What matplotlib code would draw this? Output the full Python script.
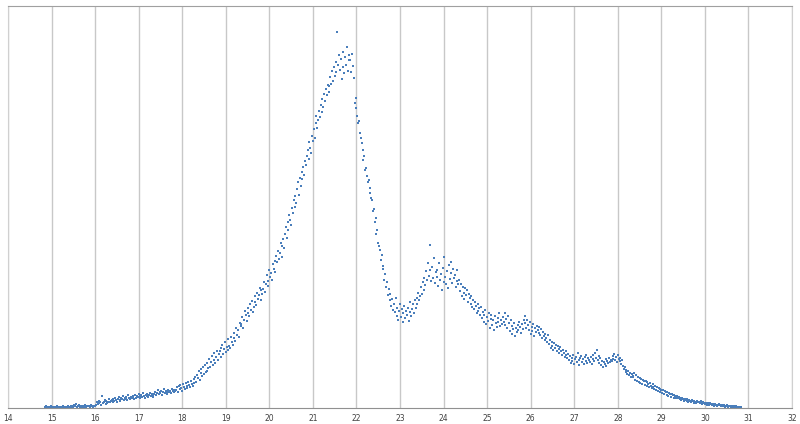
import numpy as np
import matplotlib
matplotlib.use("Agg")
import matplotlib.pyplot as plt

# ------------------------------
# Data (heights read off the picture, sampled every 0.02 on x)
# ------------------------------
x_start = 14.86
x_step = 0.02

heights = [
    1, 2, 1, 1, 0, 1, 2, 1, 1, 1, 0, 1, 1, 2, 1, 1, 0, 1, 1, 1, 2, 1, 1, 0, 1,
    1, 2, 1, 1, 2, 1, 2, 1, 3, 2, 4, 1, 2, 3, 2, 1, 2, 1, 2, 1, 3, 2, 1, 2, 2,
    2, 1, 3, 2, 2, 1, 2, 2, 3, 6, 4, 7, 5, 6, 3, 12, 5, 6, 8, 4, 7, 5, 6, 9, 6,
    7, 8, 6, 9, 7, 10, 8, 6, 9, 11, 8, 7, 10, 9, 12, 8, 10, 9, 11, 8, 13, 10, 9, 11, 10,
    11, 12, 9, 13, 10, 12, 11, 14, 10, 12, 13, 11, 15, 12, 10, 13, 12, 14, 11, 13, 15, 12, 14, 11, 13,
    14, 16, 13, 15, 18, 14, 16, 15, 17, 13, 16, 19, 15, 17, 16, 14, 18, 16, 17, 15, 19, 17, 16, 18, 17,
    18, 21, 16, 22, 19, 23, 20, 17, 24, 21, 19, 25, 22, 20, 26, 23, 21, 27, 24, 22, 29, 25, 31, 26, 33,
    30, 37, 28, 35, 39, 32, 41, 34, 43, 36, 45, 37, 40, 49, 41, 46, 52, 43, 48, 55, 45, 51, 57, 48, 54,
    57, 51, 60, 63, 54, 59, 66, 56, 61, 58, 69, 62, 60, 71, 66, 63, 75, 70, 67, 80, 73, 78, 71, 85, 82,
    84, 91, 80, 88, 97, 93, 87, 100, 95, 92, 104, 98, 107, 96, 101, 112, 106, 103, 115, 109, 113, 120, 108, 118, 114,
    119, 126, 116, 124, 133, 127, 122, 138, 131, 135, 128, 144, 139, 147, 136, 152, 146, 157, 149, 155, 165, 151, 162, 169, 160,
    174, 181, 170, 186, 178, 193, 188, 183, 200, 195, 208, 201, 212, 205, 219, 226, 213, 230, 222, 236, 229, 241, 233, 247, 243,
    252, 258, 249, 266, 260, 255, 272, 267, 279, 270, 285, 292, 280, 288, 297, 291, 303, 296, 309, 301, 314, 307, 319, 313, 323,
    322, 316, 331, 324, 337, 327, 341, 332, 346, 336, 376, 343, 353, 338, 349, 329, 356, 341, 335, 351, 343, 361, 337, 348, 353,
    348, 336, 354, 342, 330, 305, 310, 300, 292, 285, 287, 275, 270, 265, 258, 248, 252, 238, 240, 232, 226, 228, 220, 215, 210,
    208, 197, 199, 186, 190, 174, 178, 165, 162, 158, 148, 153, 139, 142, 128, 134, 121, 126, 113, 119, 108, 114, 102, 109, 98,
    104, 96, 110, 92, 100, 88, 97, 104, 91, 99, 86, 95, 102, 90, 97, 93, 100, 87, 96, 106, 92, 99, 104, 95, 108,
    100, 110, 104, 115, 108, 112, 121, 114, 126, 118, 130, 123, 137, 128, 145, 132, 163, 138, 127, 141, 130, 150, 125, 136, 131,
    138, 122, 145, 128, 134, 118, 140, 126, 151, 131, 124, 137, 120, 143, 129, 135, 146, 125, 139, 130, 133, 121, 138, 127, 124,
    128, 117, 124, 112, 121, 115, 109, 120, 113, 118, 106, 114, 110, 104, 112, 101, 108, 99, 106, 102, 95, 104, 97, 100, 93,
    101, 90, 96, 86, 93, 98, 84, 91, 87, 95, 80, 89, 93, 83, 88, 78, 92, 85, 81, 90, 86, 95, 82, 88, 84,
    91, 86, 95, 83, 89, 80, 92, 85, 77, 88, 74, 82, 79, 85, 72, 80, 76, 83, 78, 86, 81, 75, 84, 79, 88,
    85, 92, 80, 88, 83, 78, 86, 74, 81, 77, 84, 72, 80, 76, 82, 78, 75, 81, 73, 79, 70, 76, 72, 68, 74,
    70, 66, 73, 64, 68, 60, 66, 62, 58, 65, 60, 63, 57, 62, 59, 55, 61, 57, 53, 58, 55, 51, 57, 53, 50,
    54, 48, 52, 45, 50, 47, 53, 44, 49, 51, 46, 55, 48, 43, 50, 52, 46, 49, 44, 51, 47, 53, 45, 50, 48,
    46, 51, 44, 49, 53, 47, 55, 50, 58, 48, 52, 45, 50, 43, 47, 41, 46, 44, 49, 42, 47, 45, 50, 46, 48,
    47, 52, 49, 54, 48, 51, 46, 53, 49, 47, 50, 44, 48, 42, 39, 41, 36, 38, 34, 37, 33, 35, 31, 34, 32,
    31, 35, 28, 33, 27, 31, 26, 30, 25, 29, 24, 28, 27, 23, 27, 22, 26, 24, 21, 25, 22, 20, 24, 21, 19,
    22, 18, 21, 17, 20, 16, 19, 18, 15, 18, 14, 17, 16, 13, 16, 12, 15, 14, 11, 14, 13, 10, 13, 12, 10,
    12, 10, 11, 9, 10, 8, 10, 9, 7, 9, 8, 7, 9, 6, 8, 7, 6, 8, 7, 5, 7, 6, 5, 7, 6,
    6, 5, 7, 5, 4, 6, 5, 4, 5, 3, 5, 4, 3, 5, 4, 3, 4, 3, 2, 4, 3, 2, 3, 4, 3,
    3, 2, 3, 2, 3, 1, 2, 3, 2, 1, 2, 2, 1, 2, 1, 2, 1, 1, 2, 1, 1, 0, 1, 1, 1,
]

x_ticks = list(range(14, 33))

xs = x_start + x_step * np.arange(len(heights))

# ------------------------------
# Plot
# ------------------------------
fig = plt.figure(figsize=(8, 4.24), dpi=100)
ax = fig.add_axes([8 / 800, 16 / 424, 784 / 800, 402 / 424])

ax.plot(xs, heights, linestyle='none', marker='s', markersize=1.5,
        markeredgewidth=0, color='#4a7ebb')

ax.set_xlim(14, 32)
ax.set_ylim(0, 402)
ax.set_xticks(x_ticks)
ax.set_yticks([])
ax.tick_params(axis='x', length=0, pad=4, labelsize=5.5, labelcolor='#404040')
ax.xaxis.grid(True, color='#c8c8c8', linewidth=1.0)
ax.set_axisbelow(True)

for side in ['left', 'right']:
    ax.spines[side].set_color('#d0d0d0')
ax.spines['top'].set_color('#a0a0a0')
ax.spines['bottom'].set_color('#909090')

fig.savefig('out.png', dpi=100)
